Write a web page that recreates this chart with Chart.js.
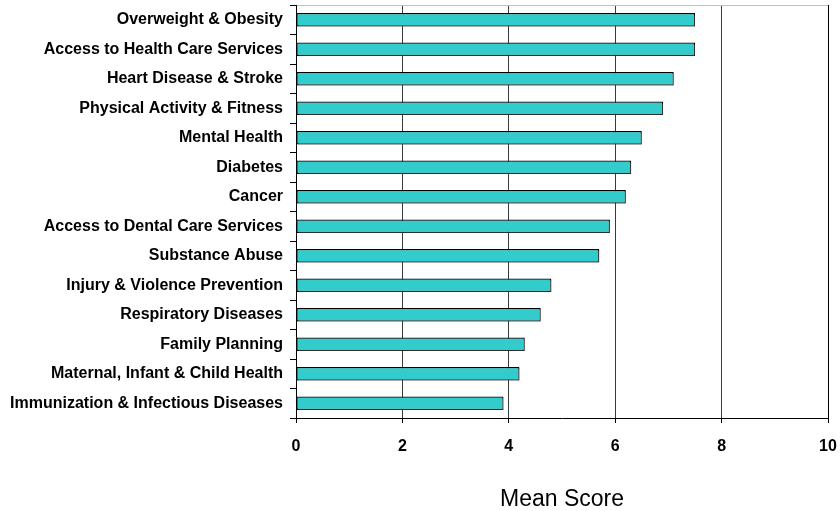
<!DOCTYPE html>
<html>
<head>
<meta charset="utf-8">
<script src="https://cdn.jsdelivr.net/npm/chart.js@4/dist/chart.umd.min.js"></script>
<style>
  html, body { margin: 0; padding: 0; background: #fff; }
  #wrap { width: 840px; height: 511px; }
</style>
</head>
<body>
<div id="wrap"><canvas id="c" width="840" height="511"></canvas></div>
<script>
const categories = [
  "Overweight & Obesity",
  "Access to Health Care Services",
  "Heart Disease & Stroke",
  "Physical Activity & Fitness",
  "Mental Health",
  "Diabetes",
  "Cancer",
  "Access to Dental Care Services",
  "Substance Abuse",
  "Injury & Violence Prevention",
  "Respiratory Diseases",
  "Family Planning",
  "Maternal, Infant & Child Health",
  "Immunization & Infectious Diseases"
];
const meanScores = [7.5, 7.5, 7.1, 6.9, 6.5, 6.3, 6.2, 5.9, 5.7, 4.8, 4.6, 4.3, 4.2, 3.9];
const axisTitle = "Mean Score";
const xMin = 0, xMax = 10, xStep = 2;

const shadowPlugin = {
  id: 'barShadow',
  beforeDatasetsDraw(chart) {
    const ctx = chart.ctx;
    ctx.save();
    ctx.shadowColor = 'rgba(120,120,120,0.5)';
    ctx.shadowOffsetX = 1;
    ctx.shadowOffsetY = 1;
    ctx.shadowBlur = 0;
  },
  afterDatasetsDraw(chart) {
    chart.ctx.restore();
  }
};

const FONT = "'Liberation Sans', Arial, sans-serif";

new Chart(document.getElementById('c'), {
  type: 'bar',
  data: {
    labels: categories,
    datasets: [{
      data: meanScores,
      backgroundColor: '#33CCCC',
      borderColor: '#000000',
      borderWidth: 1.2,
      borderSkipped: false,
      barPercentage: 0.45,
      categoryPercentage: 1.0
    }]
  },
  options: {
    indexAxis: 'y',
    responsive: false,
    animation: false,
    events: [],
    layout: { padding: { top: 5, right: 12, left: 0, bottom: 0 } },
    plugins: {
      legend: { display: false },
      tooltip: { enabled: false },
      title: { display: false }
    },
    scales: {
      x: {
        type: 'linear',
        position: 'bottom',
        min: xMin,
        max: xMax,
        ticks: {
          stepSize: xStep,
          color: '#000',
          padding: 14,
          font: { family: FONT, size: 16, weight: 'bold' }
        },
        grid: {
          color: (c) => (c.tick && c.tick.value === xMax) ? '#000' : '#3a3a3a',
          tickColor: '#000',
          tickLength: 5,
          lineWidth: 1
        },
        border: { display: true, color: '#000', width: 1 },
        title: {
          display: true,
          text: axisTitle,
          color: '#000',
          padding: { top: 0, bottom: 0 },
          font: { family: FONT, size: 23, weight: 'normal', lineHeight: 1 }
        },
        afterFit(scale) {
          scale.height = 93;
          scale.paddingLeft = 0;
          scale.paddingRight = 0;
        }
      },
      y: {
        type: 'category',
        ticks: {
          color: '#000',
          padding: 7,
          autoSkip: false,
          font: { family: FONT, size: 16, weight: 'bold' }
        },
        grid: {
          offset: true,
          color: (c) => c.index === 0 ? '#c0c0c0' : 'rgba(0,0,0,0)',
          tickColor: '#000',
          tickLength: 6,
          lineWidth: 1
        },
        border: { display: true, color: '#000', width: 1 },
        afterFit(scale) {
          scale.width = 296;
          scale.paddingTop = 0;
          scale.paddingBottom = 0;
        }
      }
    }
  },
  plugins: [shadowPlugin]
});
</script>
</body>
</html>
